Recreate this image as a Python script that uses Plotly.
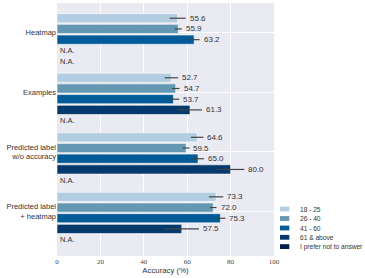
import plotly.graph_objects as go

# ---- data ----
categories = ["Heatmap", "Examples", "Predicted label<br>w/o accuracy", "Predicted label<br>+ heatmap"]
age_groups = ["18 - 25", "26 - 40", "41 - 60", "61 & above", "I prefer not to answer"]
colors = ["#b3cde0", "#6497b1", "#005b96", "#03396c", "#011f4b"]

acc_18_25 = [55.6, 52.7, 64.6, 73.3]
acc_26_40 = [55.9, 54.7, 59.5, 72.0]
acc_41_60 = [63.2, 53.7, 65.0, 75.3]
acc_61_up = [None, 61.3, 80.0, 57.5]
acc_no_ans = [None, None, None, None]

err_18_25 = [3.7, 3.1, 2.9, 3.3]
err_26_40 = [1.6, 1.75, 1.5, 1.5]
err_41_60 = [2.5, 2.6, 2.7, 2.3]
err_61_up = [None, 5.5, 6.3, 7.9]
err_no_ans = [None, None, None, None]

series_vals = [acc_18_25, acc_26_40, acc_41_60, acc_61_up, acc_no_ans]
series_errs = [err_18_25, err_26_40, err_41_60, err_61_up, err_no_ans]

# ---- layout constants ----
W, H = 365, 278
ML, MR, MT, MB = 57, 91, 3, 22
PW, PH = W - ML - MR, H - MT - MB
SLOT = 0.18
FIRST_OFF = -0.244
BAR_W = 0.155
SANS = "Liberation Sans, Arial, sans-serif"
SERIF = "Liberation Serif, Times New Roman, serif"

fig = go.Figure()
annotations = []
shapes = []

for k, (name, vals, errs, col) in enumerate(zip(age_groups, series_vals, series_errs, colors)):
    ys = [i + FIRST_OFF + SLOT * k for i in range(len(categories))]
    fig.add_trace(go.Bar(
        x=vals, y=ys, orientation="h", width=BAR_W, name=name,
        marker=dict(color=col, line=dict(color="white", width=0.6)),
        error_x=dict(type="data", array=[e if e is not None else 0 for e in errs],
                     symmetric=True, color="#444444", thickness=1.2, width=0),
        showlegend=False, hoverinfo="skip",
    ))
    for v, e, y in zip(vals, errs, ys):
        if v is None:
            annotations.append(dict(x=0, y=y, xref="x", yref="y", text="N.A.",
                                    xanchor="left", yanchor="middle", xshift=1,
                                    showarrow=False, font=dict(family=SANS, size=7.5, color="#333")))
        else:
            annotations.append(dict(x=v + e, y=y, xref="x", yref="y", text=f"{v:.1f}",
                                    xanchor="left", yanchor="middle", xshift=2,
                                    showarrow=False, font=dict(family=SANS, size=8, color="#333")))

# manual compact legend
leg_y_px = [209, 218.5, 228, 237.3, 246.6]
for name, col, ypx in zip(age_groups, colors, leg_y_px):
    yp = (H - MB - ypx) / PH
    shapes.append(dict(type="rect", xref="paper", yref="paper",
                       x0=(280 - ML) / PW, x1=(289.3 - ML) / PW,
                       y0=yp - 2.4 / PH, y1=yp + 2.4 / PH,
                       fillcolor=col, line=dict(width=0)))
    annotations.append(dict(x=(297.5 - ML) / PW, y=yp, xref="paper", yref="paper",
                            text=name, xanchor="left", yanchor="middle", showarrow=False,
                            font=dict(family=SANS, size=6.6, color="#333")))

fig.update_layout(
    width=W, height=H,
    margin=dict(l=ML, r=MR, t=MT, b=MB, pad=0),
    plot_bgcolor="#eaeaf2", paper_bgcolor="white",
    barmode="overlay",
    annotations=annotations, shapes=shapes,
    xaxis=dict(range=[0, 100], tickvals=[0, 20, 40, 60, 80, 100], showgrid=True,
               gridcolor="white", gridwidth=1, zeroline=False, ticks="", showline=False,
               automargin=False,
               tickfont=dict(family=SERIF, size=7, color="#444"),
               title=dict(text="Accuracy (%)", font=dict(family=SANS, size=7.8, color="#333"), standoff=2)),
    yaxis=dict(range=[3.75, -0.5], tickvals=list(range(len(categories))), ticktext=categories,
               showgrid=True, gridcolor="white", gridwidth=1, zeroline=False, ticks="",
               showline=False, automargin=False,
               tickfont=dict(family=SANS, size=7.5, color="#333")),
)

fig.write_html("out.html", config={"displayModeBar": False},
               post_script="document.body.style.margin='0';document.body.style.padding='0';")
